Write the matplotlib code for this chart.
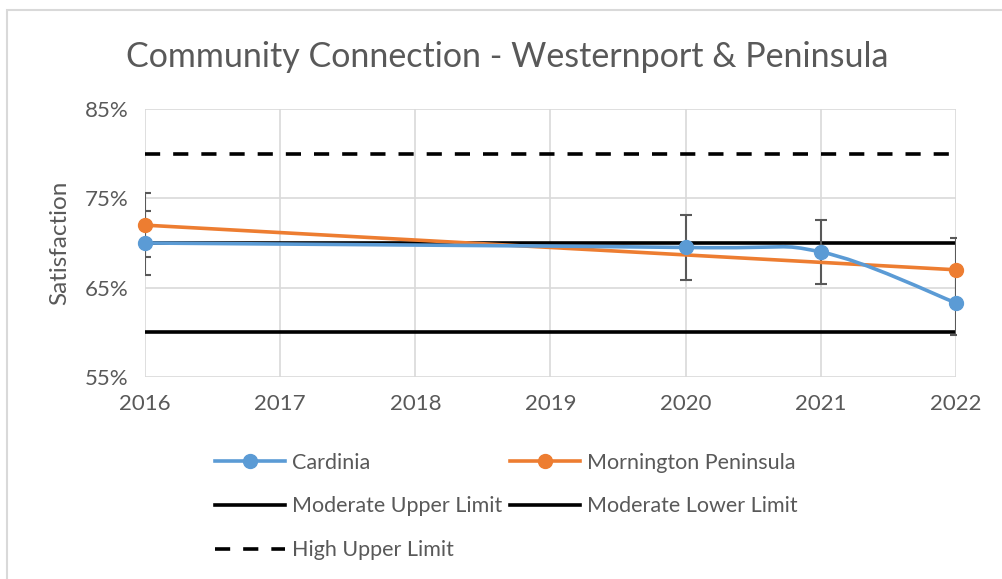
import matplotlib.pyplot as plt
from matplotlib.path import Path
from matplotlib.patches import PathPatch, Rectangle
from matplotlib.lines import Line2D
from matplotlib.ticker import FuncFormatter

# --- data ---
years = [2016, 2017, 2018, 2019, 2020, 2021, 2022]
cardinia_years = [2016, 2020, 2021, 2022]
cardinia = [70.0, 69.5, 69.0, 63.3]
cardinia_err = [3.6, 3.6, 3.6, 3.6]
mornington_years = [2016, 2022]
mornington = [72.0, 67.0]
mornington_err = [3.6, 3.6]
moderate_upper = [70, 70, 70, 70, 70, 70, 70]
moderate_lower = [60, 60, 60, 60, 60, 60, 60]
high_upper = [80, 80, 80, 80, 80, 80, 80]

BLUE = '#5B9BD5'
ORANGE = '#ED7D31'
TXT = '#595959'
GRID = '#D9D9D9'
DASH = (0, (4.2, 3.6))

plt.rcParams['font.family'] = ['Lato', 'DejaVu Sans']


def smooth_path(xs, ys):
    # Excel-like smoothed line: cubic bezier through the points
    pts = list(zip(xs, ys))
    verts = [pts[0]]
    codes = [Path.MOVETO]
    n = len(pts)
    for i in range(n - 1):
        p0 = pts[max(i - 1, 0)]
        p1 = pts[i]
        p2 = pts[i + 1]
        p3 = pts[min(i + 2, n - 1)]
        c1 = (p1[0] + (p2[0] - p0[0]) / 6, p1[1] + (p2[1] - p0[1]) / 6)
        c2 = (p2[0] - (p3[0] - p1[0]) / 6, p2[1] - (p3[1] - p1[1]) / 6)
        verts += [c1, c2, p2]
        codes += [Path.CURVE4] * 3
    return Path(verts, codes)


fig = plt.figure(figsize=(10.03, 5.79), dpi=100)
ax = fig.add_axes([0.1446, 0.3489, 0.8085, 0.4628])

# limit lines
ax.plot(years, moderate_upper, color='black', lw=2.6, zorder=3, solid_capstyle='butt')
ax.plot(years, moderate_lower, color='black', lw=2.6, zorder=3, solid_capstyle='butt')
ax.plot(years, high_upper, color='black', lw=2.6, ls=DASH, zorder=3)

# error bars
ax.errorbar(mornington_years, mornington, yerr=mornington_err, fmt='none',
            ecolor=TXT, elinewidth=1.5, capsize=4, capthick=1.5, zorder=4)
ax.errorbar(cardinia_years, cardinia, yerr=cardinia_err, fmt='none',
            ecolor=TXT, elinewidth=1.5, capsize=4, capthick=1.5, zorder=4)

# series
ax.plot(mornington_years, mornington, color=ORANGE, lw=2.6, marker='o', ms=10,
        zorder=5, clip_on=False)
ax.add_patch(PathPatch(smooth_path(cardinia_years, cardinia), fc='none',
                       ec=BLUE, lw=2.6, zorder=6))
ax.plot(cardinia_years, cardinia, ls='none', marker='o', ms=10, color=BLUE,
        zorder=6, clip_on=False)

ax.set_xlim(2016, 2022)
ax.set_ylim(55, 85)
ax.set_xticks(years)
ax.set_yticks([55, 65, 75, 85])
ax.yaxis.set_major_formatter(FuncFormatter(lambda v, p: f'{v:.0f}%'))
ax.grid(True, color=GRID, lw=1.2)
ax.set_axisbelow(True)
for s in ax.spines.values():
    s.set_visible(False)
ax.tick_params(length=0, labelsize=16, colors=TXT, pad=12)
ax.set_ylabel('Satisfaction', fontsize=17.5, color=TXT, labelpad=10)

fig.text(0.506, 0.902, 'Community Connection - Westernport & Peninsula',
         fontsize=24.5, color=TXT, ha='center', va='center')

handles = [
    Line2D([], [], color=BLUE, lw=2.6, marker='o', ms=10),
    Line2D([], [], color='black', lw=2.6),
    Line2D([], [], color='black', lw=2.6, ls=DASH),
    Line2D([], [], color=ORANGE, lw=2.6, marker='o', ms=10),
    Line2D([], [], color='black', lw=2.6),
]
labels = ['Cardinia', 'Moderate Upper Limit', 'High Upper Limit',
          'Mornington Peninsula', 'Moderate Lower Limit']
leg = fig.legend(handles, labels, ncol=2, loc='upper left',
                 bbox_to_anchor=(0.206, 0.233), frameon=False, fontsize=15.5,
                 handlelength=3.25, handletextpad=0.33, columnspacing=0.35,
                 labelspacing=1.1, borderaxespad=0)
for t in leg.get_texts():
    t.set_color(TXT)

fig.patches.append(Rectangle((0.007, -0.1), 1.2, 1.1 - 10 / 579,
                             transform=fig.transFigure, fill=False,
                             ec=GRID, lw=1.5))

fig.savefig('out.png', dpi=100)
